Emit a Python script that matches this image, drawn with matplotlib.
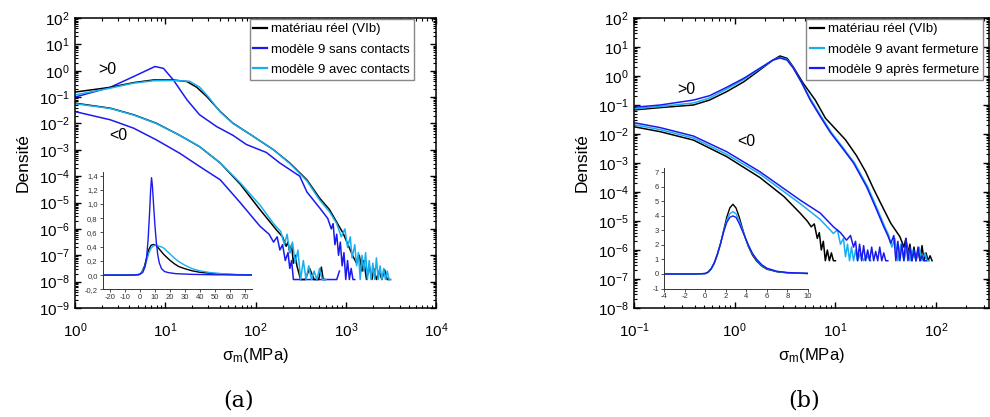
import numpy as np
import matplotlib
matplotlib.use("Agg")
import matplotlib.pyplot as plt
from matplotlib.ticker import LogLocator, NullFormatter, FixedLocator

plt.rcParams["font.family"] = ["Liberation Sans", "DejaVu Sans"]
plt.rcParams["mathtext.fontset"] = "custom"
plt.rcParams["mathtext.rm"] = "Liberation Sans"
plt.rcParams["mathtext.it"] = "Liberation Sans:italic"
plt.rcParams["axes.unicode_minus"] = False

BLACK = "#000000"
BLUE = "#1a1af0"
CYAN = "#18aef0"

# ── (a) main panel, values as log10(sigma), log10(density) ─────────────
a_pos_black_lx = [0, 0.39, 0.65, 0.87, 1.09, 1.24, 1.35, 1.46, 1.61, 1.75, 1.98, 2.2, 2.38, 2.57, 2.71,
                  2.82, 2.97, 3.08, 3.12, 3.15, 3.18, 3.2, 3.23, 3.26, 3.29, 3.31, 3.34, 3.37, 3.4, 3.43,
                  3.46, 3.49]
a_pos_black_ly = [-0.81, -0.63, -0.45, -0.35, -0.35, -0.41, -0.63, -0.98, -1.55, -1.99, -2.5, -3.0, -3.5, -4.14, -4.83,
                  -5.27, -6.16, -7.04, -7.3, -7.0, -7.6, -7.2, -7.92, -7.4, -7.92, -7.5, -7.92, -7.6, -7.92, -7.55,
                  -7.92, -7.92]
a_pos_cyan_lx = [0, 0.39, 0.65, 0.87, 1.09, 1.27, 1.38, 1.48, 1.61, 1.75, 1.98, 2.2, 2.38, 2.57, 2.71, 2.82,
                 2.9, 2.95, 2.99, 3.02, 3.05, 3.07, 3.1, 3.12, 3.14, 3.16, 3.18, 3.2, 3.22, 3.24, 3.26, 3.28,
                 3.3, 3.32, 3.34, 3.36, 3.38, 3.4, 3.42, 3.44, 3.46, 3.48, 3.5]
a_pos_cyan_ly = [-0.92, -0.66, -0.47, -0.38, -0.37, -0.40, -0.62, -1.0, -1.57, -2.0, -2.5, -3.0, -3.52, -4.18, -4.9, -5.35,
                 -5.8, -6.3, -6.0, -6.7, -6.3, -7.1, -6.6, -7.4, -6.9, -7.92, -7.0, -7.6, -6.9, -7.92, -7.2, -7.92,
                 -7.3, -7.92, -7.1, -7.92, -7.4, -7.92, -7.5, -7.92, -7.6, -7.92, -7.92]
a_pos_blue_lx = [0, 0.39, 0.65, 0.886, 0.98, 1.09, 1.24, 1.38, 1.57, 1.75, 1.9, 2.12, 2.27, 2.49, 2.57, 2.71,
                 2.8, 2.84, 2.86, 2.88, 2.9, 2.92, 2.94, 2.96, 2.98, 3.0, 3.02, 3.04, 3.06, 3.08, 3.1]
a_pos_blue_ly = [-1.0, -0.63, -0.22, 0.16, 0.09, -0.35, -1.1, -1.67, -2.12, -2.45, -2.8, -3.1, -3.5, -4.0, -4.6, -5.2,
                 -5.6, -6.0, -5.8, -6.6, -6.2, -7.0, -6.5, -7.4, -6.9, -7.92, -7.2, -7.92, -7.5, -7.92, -7.92]

a_neg_black_lx = [0, 0.39, 0.65, 0.9, 1.16, 1.38, 1.61, 1.83, 2.05, 2.23, 2.3, 2.34, 2.36, 2.38, 2.4, 2.42,
                  2.44, 2.46, 2.5, 2.55, 2.6, 2.65, 2.7, 2.73, 2.75, 2.77]
a_neg_black_ly = [-1.23, -1.42, -1.67, -1.99, -2.45, -2.88, -3.5, -4.3, -5.27, -6.03, -6.3, -6.66, -6.5, -6.9, -6.6, -7.3,
                  -7.0, -7.42, -7.92, -7.92, -7.5, -7.92, -7.92, -7.45, -7.92, -7.92]
a_neg_cyan_lx = [0, 0.39, 0.65, 0.9, 1.16, 1.38, 1.61, 1.83, 2.05, 2.2, 2.28, 2.32, 2.35, 2.38, 2.41, 2.44,
                 2.47, 2.5, 2.53, 2.56, 2.59, 2.62, 2.65, 2.68, 2.71, 2.74, 2.78]
a_neg_cyan_ly = [-1.25, -1.43, -1.68, -2.0, -2.45, -2.88, -3.5, -4.25, -5.1, -5.8, -6.1, -6.6, -6.2, -6.9, -6.5, -7.3,
                 -6.8, -7.92, -7.2, -7.92, -7.4, -7.92, -7.6, -7.92, -7.5, -7.92, -7.92]
a_neg_blue_lx = [0, 0.39, 0.65, 0.9, 1.16, 1.38, 1.61, 1.83, 2.05, 2.15, 2.2, 2.24, 2.27, 2.3, 2.33, 2.36,
                 2.38, 2.4, 2.42, 2.44, 2.9, 2.93]
a_neg_blue_ly = [-1.55, -1.86, -2.18, -2.62, -3.13, -3.63, -4.14, -5.0, -5.9, -6.2, -6.5, -6.3, -6.8, -6.6, -7.2, -6.9,
                 -7.5, -7.2, -7.92, -7.92, -7.92, -7.6]

# ── (a) inset, linear ──────────────────────────────────────────────────
ia_black_x = [-25, -5, -1, 1, 3, 4.5, 6, 7.5, 9, 10.5, 12, 14, 16, 18, 20, 23, 26, 30, 35, 40, 47, 55, 65, 75]
ia_black_y = [0, 0, 0.005, 0.03, 0.12, 0.24, 0.36, 0.42, 0.43, 0.42, 0.39, 0.34, 0.29, 0.25, 0.21, 0.16, 0.12,
              0.09, 0.06, 0.04, 0.025, 0.012, 0.005, 0.002]
ia_cyan_x = [-25, -5, -1, 1, 3, 4.5, 6, 7.5, 9, 10.5, 12, 14, 16, 18, 20, 23, 26, 30, 35, 40, 47, 55, 65, 75]
ia_cyan_y = [0, 0, 0.005, 0.03, 0.1, 0.2, 0.31, 0.38, 0.41, 0.42, 0.41, 0.40, 0.38, 0.34, 0.30, 0.24, 0.19,
             0.14, 0.09, 0.06, 0.035, 0.02, 0.008, 0.003]
ia_blue_x = [-25, -5, 0, 2, 3.5, 4.5, 5.5, 6.5, 7.2, 7.8, 8.4, 9.2, 10, 11, 12, 13, 14.5, 16.5, 19, 24, 35, 50, 75]
ia_blue_y = [0, 0, 0.01, 0.04, 0.12, 0.25, 0.5, 0.88, 1.2, 1.37, 1.25, 0.98, 0.72, 0.46, 0.28, 0.17, 0.09, 0.05,
             0.035, 0.02, 0.01, 0.004, 0.002]
ia_xticks = [-20, -10, 0, 10, 20, 30, 40, 50, 60, 70]
ia_yticks = [-0.2, 0.0, 0.2, 0.4, 0.6, 0.8, 1.0, 1.2, 1.4]
ia_yticklabels = ["-0,2", "0,0", "0,2", "0,4", "0,6", "0,8", "1,0", "1,2", "1,4"]

# ── (b) main panel ─────────────────────────────────────────────────────
b_pos_black_lx = [-1, -0.74, -0.41, -0.25, -0.08, 0.09, 0.25, 0.38, 0.45, 0.52, 0.58, 0.68, 0.80, 0.9, 0.98, 1.1,
                  1.21, 1.3, 1.38, 1.45, 1.55, 1.64, 1.68, 1.7, 1.72, 1.74, 1.76, 1.78, 1.8, 1.82, 1.84, 1.86,
                  1.88, 1.9, 1.92, 1.94, 1.96]
b_pos_black_ly = [-1.17, -1.09, -1.0, -0.83, -0.54, -0.2, 0.21, 0.55, 0.69, 0.61, 0.32, -0.25, -0.83, -1.45, -1.75, -2.2,
                  -2.75, -3.3, -3.9, -4.39, -5.08, -5.54, -5.9, -5.6, -6.1, -5.8, -6.37, -5.9, -6.37, -6.0, -6.37,
                  -5.85, -6.37, -6.1, -6.37, -6.2, -6.37]
b_pos_cyan_lx = [-1, -0.74, -0.41, -0.25, -0.08, 0.09, 0.25, 0.38, 0.45, 0.52, 0.58, 0.66, 0.76, 0.86, 0.96, 1.06,
                 1.19, 1.32, 1.42, 1.49, 1.53, 1.56, 1.59, 1.62, 1.65, 1.68, 1.71, 1.74, 1.77, 1.8, 1.83, 1.86,
                 1.89, 1.91, 1.93]
b_pos_cyan_ly = [-1.13, -1.05, -0.93, -0.76, -0.45, -0.12, 0.25, 0.55, 0.64, 0.57, 0.29, -0.2, -0.83, -1.4, -1.95, -2.4,
                 -3.0, -3.82, -4.62, -5.2, -5.5, -5.9, -5.6, -6.37, -5.8, -6.37, -5.9, -6.37, -6.0, -6.37, -5.9,
                 -6.37, -6.1, -6.37, -6.37]
b_pos_blue_lx = [-1, -0.74, -0.41, -0.25, -0.08, 0.09, 0.25, 0.38, 0.45, 0.52, 0.58, 0.66, 0.75, 0.85, 0.95, 1.05,
                 1.18, 1.31, 1.41, 1.48, 1.52, 1.55, 1.58, 1.6, 1.62, 1.64, 1.66, 1.68, 1.7, 1.72, 1.74, 1.76,
                 1.78, 1.8, 1.82, 1.84, 1.86, 1.88, 1.9]
b_pos_blue_ly = [-1.08, -1.0, -0.83, -0.68, -0.39, -0.08, 0.27, 0.55, 0.62, 0.55, 0.28, -0.2, -0.83, -1.4, -1.95, -2.4,
                 -3.0, -3.82, -4.62, -5.2, -5.5, -5.77, -5.5, -6.37, -5.7, -6.37, -5.8, -6.37, -5.6, -6.37, -5.9,
                 -6.37, -6.0, -6.37, -5.9, -6.37, -6.2, -6.37, -6.37]

b_neg_black_lx = [-1, -0.74, -0.41, -0.08, 0.25, 0.49, 0.65, 0.72, 0.76, 0.79, 0.82, 0.84, 0.86, 0.88, 0.9,
                  0.92, 0.94, 0.96, 0.98, 1.0]
b_neg_black_ly = [-1.75, -1.92, -2.21, -2.78, -3.5, -4.16, -4.73, -5.0, -5.2, -5.1, -5.6, -5.4, -6.0, -5.7, -6.37,
                  -6.0, -6.37, -6.1, -6.37, -6.37]
b_neg_cyan_lx = [-1, -0.74, -0.41, -0.08, 0.25, 0.65, 0.85, 0.98, 1.02, 1.05, 1.08, 1.1, 1.12, 1.14, 1.16, 1.18,
                 1.2, 1.22, 1.25, 1.28, 1.31, 1.35]
b_neg_cyan_ly = [-1.68, -1.85, -2.14, -2.7, -3.38, -4.4, -4.95, -5.43, -5.3, -5.8, -5.6, -6.23, -5.8, -6.37, -5.9,
                 -6.37, -6.0, -6.37, -6.1, -6.37, -6.2, -6.37]
b_neg_blue_lx = [-1, -0.74, -0.41, -0.08, 0.25, 0.65, 0.85, 0.98, 1.05, 1.11, 1.15, 1.18, 1.2, 1.22, 1.24, 1.26,
                 1.28, 1.3, 1.32, 1.34, 1.36, 1.38, 1.4, 1.42, 1.44, 1.46, 1.48, 1.5, 1.52]
b_neg_blue_ly = [-1.61, -1.78, -2.07, -2.61, -3.3, -4.28, -4.73, -5.2, -5.4, -5.66, -5.5, -5.9, -5.7, -6.37, -5.8,
                 -6.37, -5.85, -6.37, -6.0, -6.37, -5.9, -6.37, -6.05, -6.37, -5.9, -6.37, -6.1, -6.37, -6.37]

# ── (b) inset ──────────────────────────────────────────────────────────
ib_x = [-4, -1, 0, 0.3, 0.6, 0.9, 1.2, 1.5, 1.8, 2.1, 2.4, 2.7, 3.0, 3.3, 3.6, 3.9, 4.2, 4.6, 5.0, 5.5, 6.0,
        7.0, 8.0, 10]
ib_black_y = [0, 0, 0.03, 0.12, 0.35, 0.75, 1.35, 2.1, 3.0, 3.9, 4.55, 4.8, 4.55, 3.95, 3.2, 2.5, 1.9, 1.3, 0.9,
              0.55, 0.33, 0.15, 0.08, 0.03]
ib_cyan_y = [0, 0, 0.03, 0.13, 0.37, 0.78, 1.38, 2.1, 2.95, 3.7, 4.15, 4.3, 4.15, 3.7, 3.1, 2.5, 1.95, 1.38, 0.98,
             0.6, 0.37, 0.17, 0.09, 0.04]
ib_blue_y = [0, 0, 0.03, 0.14, 0.39, 0.8, 1.4, 2.1, 2.9, 3.55, 3.9, 4.0, 3.9, 3.5, 3.0, 2.5, 2.0, 1.42, 1.02,
             0.64, 0.4, 0.18, 0.1, 0.04]
ib_xticks = [-4, -2, 0, 2, 4, 6, 8, 10]
ib_yticks = [-1, 0, 1, 2, 3, 4, 5, 6, 7]

W, H = 990, 417


def px_axes(l, t, r, b):
    return [l / W, 1 - b / H, (r - l) / W, (b - t) / H]


fig = plt.figure(figsize=(9.9, 4.17), dpi=100)


def style_main(ax):
    ax.set_xscale("log")
    ax.set_yscale("log")
    ax.tick_params(which="both", direction="in", top=True, right=True, labelsize=11)
    ax.tick_params(which="major", length=4, width=1)
    ax.tick_params(which="minor", length=2, width=0.8)
    ax.tick_params(axis="x", which="major", pad=10)
    ax.tick_params(axis="y", which="major", pad=4)
    ax.yaxis.set_major_locator(LogLocator(base=10, numticks=20))
    ax.yaxis.set_minor_locator(LogLocator(base=10, subs=np.arange(2, 10), numticks=20))
    ax.yaxis.set_minor_formatter(NullFormatter())
    ax.xaxis.set_minor_formatter(NullFormatter())
    for s in ax.spines.values():
        s.set_linewidth(1.1)
    ax.set_ylabel("Densité", fontsize=12.5, labelpad=6)
    ax.set_xlabel("σ$_\\mathrm{m}$(MPa)", fontsize=12, labelpad=4)


def lp(ax, lx, ly, color, label=None, lw=1.1):
    return ax.plot(10 ** np.array(lx), 10 ** np.array(ly), color=color, lw=lw, label=label)[0]


def style_inset(ax):
    ax.set_facecolor("none")
    ax.spines["top"].set_visible(False)
    ax.spines["right"].set_visible(False)
    for s in ("left", "bottom"):
        ax.spines[s].set_linewidth(0.7)
        ax.spines[s].set_color("#333333")
    ax.tick_params(direction="out", labelsize=5.5, length=2, width=0.6, pad=1.5, colors="#333333")


LEG = dict(fontsize=9.5, frameon=True, fancybox=False, edgecolor="#888888", framealpha=1,
           handlelength=1.05, handletextpad=0.3, borderpad=0.3, labelspacing=0.62, borderaxespad=0)

# ── panel (a) ──────────────────────────────────────────────────────────
axa = fig.add_axes(px_axes(75, 18, 436, 308))
hb = lp(axa, a_pos_blue_lx, a_pos_blue_ly, BLUE, "modèle 9 sans contacts")
lp(axa, a_neg_blue_lx, a_neg_blue_ly, BLUE)
hk = lp(axa, a_pos_black_lx, a_pos_black_ly, BLACK, "matériau réel (VIb)")
lp(axa, a_neg_black_lx, a_neg_black_ly, BLACK)
hc = lp(axa, a_pos_cyan_lx, a_pos_cyan_ly, CYAN, "modèle 9 avec contacts")
lp(axa, a_neg_cyan_lx, a_neg_cyan_ly, CYAN)
axa.set_xlim(1, 1e4)
axa.set_ylim(1e-9, 1e2)
style_main(axa)
axa.text(2.26, 1.07, ">0", fontsize=11.5, ha="center", va="center")
axa.text(3.0, 3.4e-3, "<0", fontsize=11.5, ha="center", va="center")
leg = axa.legend(handles=[hk, hb, hc], loc="upper right", bbox_to_anchor=(414 / W, 1 - 19 / H),
                 bbox_transform=fig.transFigure, **LEG)
for ln in leg.get_lines():
    ln.set_linewidth(1.6)

ia = fig.add_axes(px_axes(102.5, 172, 252, 289.3))
ia.plot(ia_black_x, ia_black_y, color=BLACK, lw=1.0)
ia.plot(ia_cyan_x, ia_cyan_y, color=CYAN, lw=1.0)
ia.plot(ia_blue_x, ia_blue_y, color=BLUE, lw=1.0)
ia.set_xlim(-25, 75)
ia.set_ylim(-0.2, 1.45)
ia.xaxis.set_major_locator(FixedLocator(ia_xticks))
ia.set_yticks(ia_yticks)
ia.set_yticklabels(ia_yticklabels)
ia.set_xticklabels([str(v) for v in ia_xticks])
style_inset(ia)

# ── panel (b) ──────────────────────────────────────────────────────────
axb = fig.add_axes(px_axes(634, 18, 989.5, 308))
lp(axb, b_pos_black_lx, b_pos_black_ly, BLACK, "matériau réel (VIb)")
lp(axb, b_neg_black_lx, b_neg_black_ly, BLACK)
lp(axb, b_pos_cyan_lx, b_pos_cyan_ly, CYAN, "modèle 9 avant fermeture")
lp(axb, b_neg_cyan_lx, b_neg_cyan_ly, CYAN)
lp(axb, b_pos_blue_lx, b_pos_blue_ly, BLUE, "modèle 9 après fermeture")
lp(axb, b_neg_blue_lx, b_neg_blue_ly, BLUE)
axb.set_xlim(0.1, 10 ** 2.53)
axb.set_ylim(1e-8, 1e2)
style_main(axb)
axb.text(0.33, 0.355, ">0", fontsize=11.5, ha="center", va="center")
axb.text(1.29, 5.7e-3, "<0", fontsize=11.5, ha="center", va="center")
leg = axb.legend(loc="upper right", bbox_to_anchor=(983 / W, 1 - 19 / H),
                 bbox_transform=fig.transFigure, **LEG)
for ln in leg.get_lines():
    ln.set_linewidth(1.6)

ib = fig.add_axes(px_axes(664, 168, 808, 288.5))
ib.plot(ib_x, ib_black_y, color=BLACK, lw=1.0)
ib.plot(ib_x, ib_cyan_y, color=CYAN, lw=1.0)
ib.plot(ib_x, ib_blue_y, color=BLUE, lw=1.0)
ib.set_xlim(-4, 10)
ib.set_ylim(-1, 7.3)
ib.set_xticks(ib_xticks)
ib.set_yticks(ib_yticks)
style_inset(ib)

# ── captions ───────────────────────────────────────────────────────────
fig.text(239 / W, 1 - 401 / H, "(a)", fontsize=16, family="DejaVu Serif", ha="center", va="center")
fig.text(804 / W, 1 - 401 / H, "(b)", fontsize=16, family="DejaVu Serif", ha="center", va="center")

fig.savefig("out.png", dpi=100)
